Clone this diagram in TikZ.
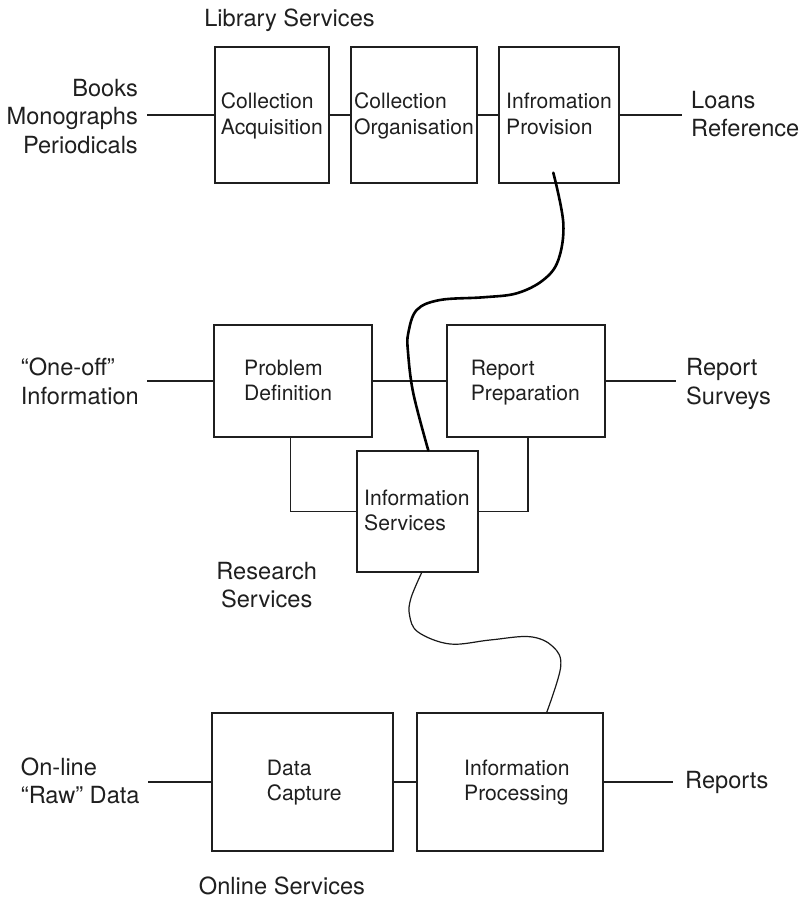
\documentclass[tikz,border=0pt]{standalone}
\usepackage{fontspec}
\setmainfont{TeX Gyre Heros}
\begin{document}
\begin{tikzpicture}[x=1bp,y=-1bp,
  line join=miter,
  box/.style={draw=black!88,line width=1.2bp,inner sep=0pt,minimum width=#1},
  wire/.style={draw=black!88,line width=1.1bp},
  intext/.style={font=\fontsize{21.2}{25.5}\selectfont,align=left,anchor=base west,inner sep=0pt,text=black!88},
  outtext/.style={font=\fontsize{23.7}{28.5}\selectfont,inner sep=0pt,text=black!88},
  thickcord/.style={draw=black,line width=2.6bp,line cap=round},
  thincord/.style={draw=black!90,line width=1.2bp}]
\useasboundingbox (0,0) rectangle (801,900);

% Multi-line labels are placed by the baseline of their last line.

% --- Library services row ---
\node[box=114bp,minimum height=136bp] (ca) at (272,115) {};
\node[box=126bp,minimum height=136bp] (co) at (414,115) {};
\node[box=120bp,minimum height=136bp] (ip) at (559,115) {};
\node[intext] (cat) at (220.7,134) {Collection\\Acquisition};
\node[intext] (cot) at (354,134) {Collection\\Organisation};
\node[intext] (ipt) at (506,134) {Infromation\\Provision};
\node[outtext,anchor=base] (lib) at (289.5,26) {Library Services};
\node[outtext,align=right,anchor=base east] (books) at (138,153) {Books\\Monographs\\Periodicals};
\node[outtext,align=left,anchor=base west] (loans) at (691,136.8) {Loans\\Reference};
\coordinate (inL1) at (147,115);
\coordinate (outR1) at (682,115);
\draw[wire] (inL1) -- (ca.west);
\draw[wire] (ca.east) -- (co.west);
\draw[wire] (co.east) -- (ip.west);
\draw[wire] (ip.east) -- (outR1);

% --- Research services row ---
\node[box=158bp,minimum height=112bp] (pd) at (293,381) {};
\node[box=158bp,minimum height=112bp] (rp) at (526,381) {};
\node[box=121bp,minimum height=121bp] (is) at (417.5,511.5) {};
\node[intext] (pdt) at (244,400.5) {Problem\\Definition};
\node[intext] (rpt) at (470.7,400.5) {Report\\Preparation};
\node[intext] (ist) at (364,530.5) {Information\\Services};
\node[outtext,align=left,anchor=base west] (oneoff) at (20.7,404) {“One-off”\\Information};
\node[outtext,align=left,anchor=base west] (surveys) at (686,404) {Report\\Surveys};
\node[outtext,align=center,anchor=base] (research) at (266.7,607.5) {Research\\Services};
\coordinate (inL2) at (147,381);
\coordinate (outR2) at (676,381);
\draw[wire] (inL2) -- (pd.west);
\draw[wire] (pd.east) -- (rp.west);
\draw[wire] (rp.east) -- (outR2);
\draw[wire] (pd.south -| 290.7,0) |- (is.west);
\draw[wire] (rp.south -| 528,0) |- (is.east);

% --- Online services row ---
\node[box=181bp,minimum height=138bp] (dc) at (302.5,782) {};
\node[box=186bp,minimum height=138bp] (inp) at (510,782) {};
\node[intext] (dct) at (266.7,800.5) {Data\\Capture};
\node[intext] (inpt) at (464,800.5) {Information\\Processing};
\node[outtext,align=left,anchor=base west] (raw) at (20.7,803.5) {On-line\\“Raw” Data};
\node[outtext,anchor=base west] (reports) at (685,788) {Reports};
\node[outtext,anchor=base] (online) at (282,894) {Online Services};
\coordinate (inL3) at (148,782);
\coordinate (outR3) at (673,782);
\draw[wire] (inL3) -- (dc.west);
\draw[wire] (dc.east) -- (inp.west);
\draw[wire] (inp.east) -- (outR3);

% --- links between the service groups ---
\coordinate (ipTail) at (553.3,172.7);
\coordinate (isHead) at (is.north -| 428.3,0);
\draw[thickcord] plot[smooth,tension=0.6] coordinates {
  (ipTail) (563.3,223) (558.3,260) (543.3,280) (516.7,293.3) (483.3,297.3)
  (440,300) (416.7,310) (408.3,333) (408,352) (413.3,393.3) (isHead)};
\coordinate (isTail) at (is.south -| 421.7,0);
\coordinate (inpHead) at (inp.north -| 546.7,0);
\draw[thincord] plot[smooth,tension=0.6] coordinates {
  (isTail) (411,598) (409.5,615) (418,632) (450,644) (490,640)
  (530,636.7) (553,646.7) (560.7,666.7) (inpHead)};
\end{tikzpicture}
\end{document}
